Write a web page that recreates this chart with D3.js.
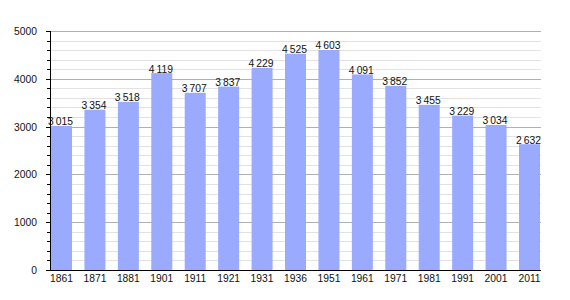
<!DOCTYPE html>
<html><head><meta charset="utf-8">
<script src="https://cdn.jsdelivr.net/npm/d3@7"></script>
<style>body{margin:0;background:#fff}svg{display:block}text{font-family:"Liberation Sans",Arial,sans-serif;fill:#111}</style>
</head><body>
<svg id="c" width="570" height="300"></svg>
<script>
const years = ["1861","1871","1881","1901","1911","1921","1931","1936","1951","1961","1971","1981","1991","2001","2011"];
const population = [3015,3354,3518,4119,3707,3837,4229,4525,4603,4091,3852,3455,3229,3034,2632];
const yTicks = [0,1000,2000,3000,4000,5000];

const svg = d3.select("#c");
const pLeft = 50, pRight = 541, pTop = 31, pBottom = 270;
const fs = 10.3;
const y = d3.scaleLinear().domain([0,5000]).range([pBottom, pTop]);
const x = d3.scaleBand().domain(years).range([51, 540]).paddingInner(0.372).paddingOuter(0);

// minor grid
const minor = d3.range(200, 5001, 200).filter(v => v % 1000 !== 0);
svg.append("g").selectAll("line").data(minor).join("line")
  .attr("x1", pLeft).attr("x2", pRight)
  .attr("y1", d => Math.round(y(d)) + 0.5).attr("y2", d => Math.round(y(d)) + 0.5)
  .attr("stroke", "#e2e2e2").attr("stroke-width", 1);
// major grid
svg.append("g").selectAll("line").data(yTicks.filter(v => v > 0)).join("line")
  .attr("x1", pLeft).attr("x2", pRight)
  .attr("y1", d => Math.round(y(d)) + 0.5).attr("y2", d => Math.round(y(d)) + 0.5)
  .attr("stroke", "#b0b0b0").attr("stroke-width", 1);

// bars
svg.append("g").selectAll("rect").data(population).join("rect")
  .attr("x", (d, i) => x(years[i]))
  .attr("width", x.bandwidth())
  .attr("y", d => y(d))
  .attr("height", d => pBottom - y(d))
  .attr("fill", "#99aaff");

// value labels
const fmt = v => { const s = String(v); return s.slice(0, s.length - 3) + "\u2009" + s.slice(-3); };
svg.append("g").selectAll("text").data(population).join("text")
  .attr("x", (d, i) => x(years[i]) + x.bandwidth() / 2 - 1)
  .attr("y", d => y(d) - 0.5)
  .attr("text-anchor", "middle")
  .attr("font-size", fs)
  .text(d => fmt(d));

// y axis
svg.append("line").attr("x1", pLeft + 0.5).attr("x2", pLeft + 0.5).attr("y1", pTop).attr("y2", pBottom + 0.5)
  .attr("stroke", "#000").attr("stroke-width", 1);
svg.append("g").selectAll("line").data(d3.range(0, 5001, 200)).join("line")
  .attr("x1", d => d % 1000 === 0 ? pLeft - 4 : pLeft - 3).attr("x2", pLeft)
  .attr("y1", d => Math.round(y(d)) + 0.5).attr("y2", d => Math.round(y(d)) + 0.5)
  .attr("stroke", "#000");
svg.append("g").selectAll("text").data(yTicks).join("text")
  .attr("x", 37).attr("y", d => y(d) + 4)
  .attr("text-anchor", "end").attr("font-size", fs)
  .text(d => d);

// x axis
svg.append("line").attr("x1", pLeft).attr("x2", pRight).attr("y1", pBottom + 0.5).attr("y2", pBottom + 0.5)
  .attr("stroke", "#000").attr("stroke-width", 1);
svg.append("g").selectAll("text").data(years).join("text")
  .attr("x", d => x(d) + x.bandwidth() / 2)
  .attr("y", 282)
  .attr("text-anchor", "middle").attr("font-size", fs)
  .text(d => d);
</script>
</body></html>
